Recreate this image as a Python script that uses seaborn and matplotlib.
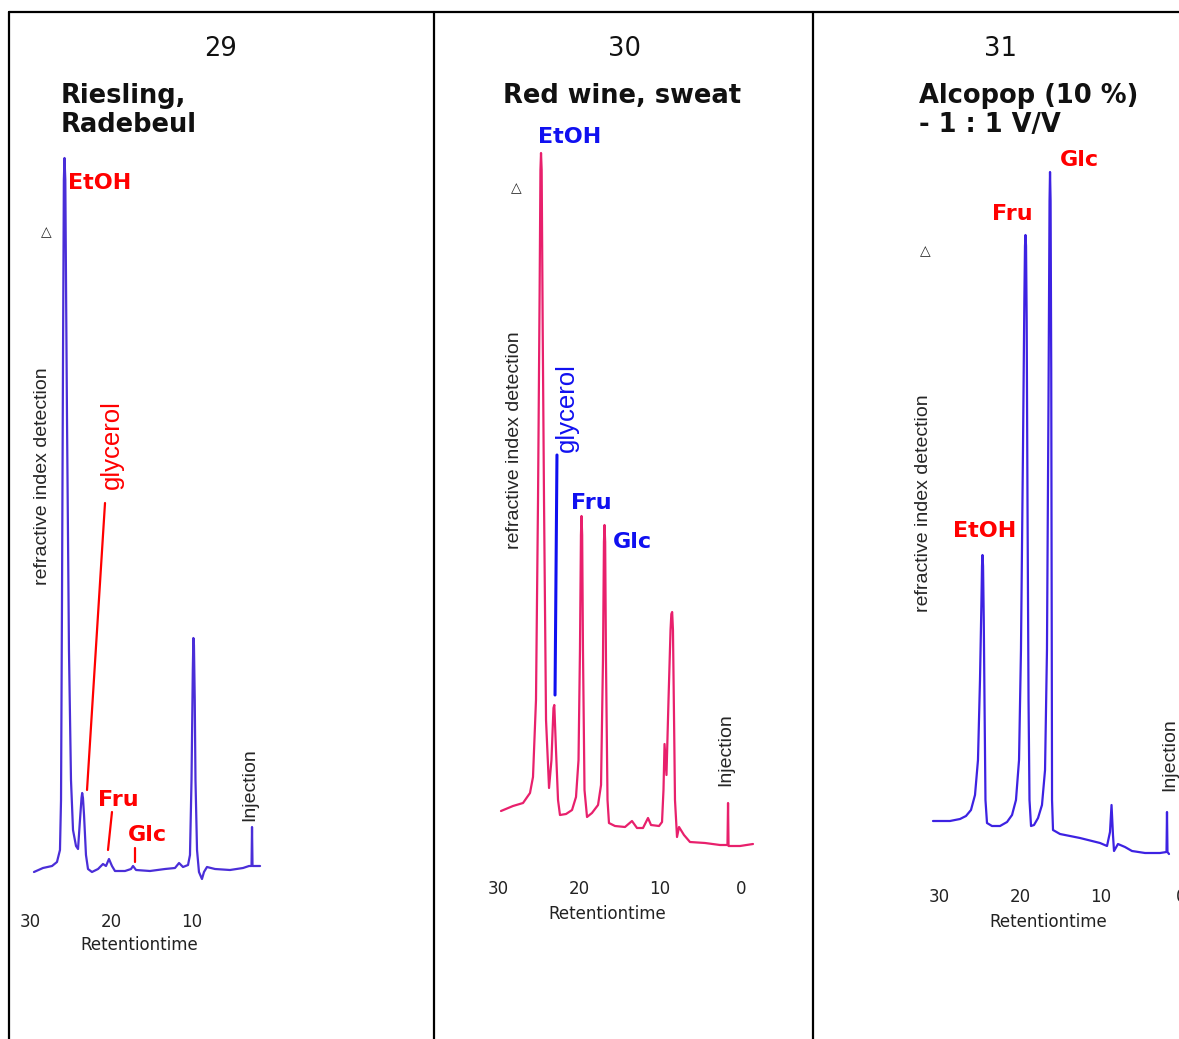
import matplotlib
matplotlib.use("Agg")
import matplotlib.pyplot as plt
import seaborn as sns
from matplotlib.lines import Line2D

# --- DATA: traced chromatograms (retention time in min, RI signal in a.u.) ---
p1_time = [29.51, 28.40, 27.28, 26.67, 26.30, 26.17, 26.05, 25.92, 25.82, 25.74,
           25.64, 25.53, 25.43, 25.19, 24.94, 24.69, 24.32, 24.07, 23.83, 23.64,
           23.56, 23.46, 23.33, 23.09, 22.84, 22.35, 21.60, 20.99, 20.62, 20.25,
           19.88, 19.51, 18.27, 17.53, 17.28, 16.91, 15.19, 13.33, 12.10, 11.60,
           11.11, 10.49, 10.25, 10.06, 9.90, 9.83, 9.76, 9.66, 9.57, 9.38,
           9.14, 8.77, 8.52, 8.15, 7.16, 5.31, 3.70, 2.96, 2.65, 2.59,
           2.53, 1.60]
p1_signal = [-2, 2, 4, 8, 20, 70, 270, 520, 690, 712,
             690, 560, 450, 220, 90, 40, 24, 21, 50, 72,
             77, 72, 55, 15, 1, -2, 1, 6, 4, 11,
             4, -1, -1, 1, 4, 0, -1, 1, 2, 7,
             3, 5, 15, 90, 200, 232, 225, 170, 90, 20,
             -2, -9, -2, 3, 1, 0, 2, 4, 4, 43,
             4, 4]

p2_time = [29.63, 28.15, 26.91, 26.05, 25.68, 25.31, 25.06, 24.86, 24.76, 24.69,
           24.61, 24.48, 24.32, 24.07, 23.70, 23.40, 23.15, 23.05, 22.84, 22.59,
           22.35, 21.60, 20.86, 20.37, 20.06, 19.88, 19.76, 19.69, 19.61, 19.51,
           19.32, 19.01, 18.40, 17.65, 17.28, 17.04, 16.92, 16.85, 16.77, 16.67,
           16.48, 16.30, 15.56, 14.32, 13.46, 12.84, 12.10, 11.48, 11.11, 10.12,
           9.75, 9.57, 9.44, 9.20, 8.95, 8.70, 8.60, 8.50, 8.40, 8.25,
           8.15, 7.90, 7.65, 7.04, 6.30, 4.44, 2.59, 1.67, 1.60, 1.54,
           0.12, -1.48]
p2_signal = [-1, 4, 7, 17, 33, 110, 310, 520, 640, 657,
             640, 480, 310, 90, 22, 50, 102, 105, 60, 10,
             -5, -4, 0, 13, 50, 160, 275, 294, 275, 160,
             20, -7, -3, 5, 25, 150, 268, 285, 268, 150,
             10, -13, -16, -17, -11, -18, -18, -8, -15, -16,
             -12, 20, 66, 35, 110, 180, 196, 198, 180, 80,
             10, -27, -17, -25, -32, -33, -35, -35, 7, -36,
             -36, -34]

p3_time = [30.81, 28.70, 27.45, 26.71, 26.09, 25.59, 25.22, 24.97, 24.80, 24.72,
           24.66, 24.59, 24.50, 24.41, 24.29, 24.10, 23.48, 22.48, 21.61, 20.99,
           20.50, 20.12, 19.88, 19.63, 19.46, 19.38, 19.32, 19.25, 19.17, 19.07,
           18.94, 18.82, 18.63, 18.26, 17.76, 17.27, 16.89, 16.65, 16.46, 16.33,
           16.27, 16.20, 16.12, 16.06, 16.02, 15.90, 15.03, 12.55, 10.06, 9.19,
           8.82, 8.63, 8.45, 8.32, 7.83, 6.96, 6.09, 4.47, 2.61, 1.80,
           1.74, 1.68, 1.49]
p3_signal = [0, 0, 2, 5, 11, 26, 61, 141, 215, 255,
             266, 255, 200, 121, 21, -2, -5, -5, -1, 6,
             21, 61, 171, 371, 520, 575, 586, 575, 500, 321,
             121, 21, -5, -4, 3, 16, 51, 171, 421, 620,
             649, 620, 450, 200, 21, -9, -13, -17, -22, -25,
             -11, 16, -14, -30, -23, -26, -30, -32, -32, -31,
             9, -31, -33]

panel_numbers = ["29", "30", "31"]
panel_titles = [["Riesling,", "Radebeul"], ["Red wine, sweat"], ["Alcopop (10 %)", "- 1 : 1 V/V"]]
tick_values = [[30, 20, 10], [30, 20, 10, 0], [30, 20, 10, 0]]

# --- LAYOUT (pixels) ---
W, H = 1179, 1039
trace_colors = ["#4a2ed8", "#e8206c", "#3d22e2"]
# x pixel of t=0, pixels per minute, baseline pixel, axis bottom pixel
layout = [(273, 8.1, 870, 907.7), (741, 8.1, 810, 874.7), (1181, 8.05, 821, 882.7)]
labelpads = [4, 5.5, 5.5]

sns.set_theme(style="white")
plt.rcParams["font.family"] = ["DejaVu Sans"]

fig = plt.figure(figsize=(W / 100, H / 100), dpi=100)
fig.patch.set_facecolor("white")

axes = []
data = [(p1_time, p1_signal), (p2_time, p2_signal), (p3_time, p3_signal)]
for i, (x0, ppm, base, bottom) in enumerate(layout):
    xl = x0 - 33 * ppm
    top = 13
    ax = fig.add_axes([xl / W, (H - bottom) / H, (x0 - xl) / W, (bottom - top) / H])
    ax.patch.set_alpha(0)
    t, s = data[i]
    sns.lineplot(x=t, y=s, ax=ax, color=trace_colors[i], linewidth=1.6,
                 sort=False, estimator=None)
    for ln in ax.lines:
        ln.set_clip_on(False)
        ln.set_solid_joinstyle("round")
    ax.set_xlim(33, 0)
    ax.set_ylim(base - bottom, base - top)
    ax.set_xticks(tick_values[i])
    ax.set_xticklabels([str(v) for v in tick_values[i]], fontsize=12, color="#222222")
    ax.tick_params(axis="x", length=0, pad=3.5)
    ax.set_yticks([])
    ax.set_ylabel("")
    ax.set_xlabel("Retentiontime", fontsize=12, labelpad=labelpads[i], color="#222222")
    for sp in ax.spines.values():
        sp.set_visible(False)
    axes.append(ax)

arial = "Liberation Sans"
red = "#ff0000"
blue = "#1010f0"
bold = dict(fontsize=16, fontweight="bold", va="center")

# panel 29
ax = axes[0]
ax.text(25.31, 687, "EtOH", color=red, ha="left", **bold)
ax.text(21.60, 70, "Fru", color=red, ha="left", **bold)
ax.text(17.90, 35, "Glc", color=red, ha="left", **bold)
ax.text(19.88, 425, "glycerol", color=red, rotation=90, ha="center", va="center",
        fontsize=18.5, family=arial)
ax.plot([20.74, 22.96], [367, 80], color=red, lw=1.6, clip_on=False)
ax.plot([19.88, 20.37], [58, 20], color=red, lw=1.6, clip_on=False)
ax.plot([17.04, 17.04], [22, 8], color=red, lw=1.6, clip_on=False)
ax.text(28.02, 638, "△", fontsize=10, ha="center", va="center")
ax.text(28.40, 394, "refractive index detection", rotation=90, ha="center",
        va="center", fontsize=14, family=arial)
ax.text(2.84, 85, "Injection", rotation=90, ha="center", va="center",
        fontsize=14, family=arial)

# panel 30
ax = axes[1]
ax.text(21.11, 673, "EtOH", color=blue, ha="center", **bold)
ax.text(20.99, 307, "Fru", color=blue, ha="left", **bold)
ax.text(15.80, 268, "Glc", color=blue, ha="left", **bold)
ax.text(21.48, 402, "glycerol", color=blue, rotation=90, ha="center", va="center",
        fontsize=18.5, family=arial)
ax.plot([22.72, 22.96], [355, 115], color=blue, lw=2.2, clip_on=False)
ax.text(27.78, 622, "△", fontsize=10, ha="center", va="center")
ax.text(28.02, 370, "refractive index detection", rotation=90, ha="center",
        va="center", fontsize=14, family=arial)
ax.text(1.85, 60, "Injection", rotation=90, ha="center", va="center",
        fontsize=14, family=arial)

# panel 31
ax = axes[2]
ax.text(15.03, 661, "Glc", color=red, ha="left", **bold)
ax.text(23.48, 607, "Fru", color=red, ha="left", **bold)
ax.text(28.32, 290, "EtOH", color=red, ha="left", **bold)
ax.text(31.80, 570, "△", fontsize=10, ha="center", va="center")
ax.text(31.93, 318, "refractive index detection", rotation=90, ha="center",
        va="center", fontsize=14, family=arial)
ax.text(1.37, 66, "Injection", rotation=90, ha="center", va="center",
        fontsize=14, family=arial)

# numbers and titles
num_x = [221, 624, 1000]
title_x = [61, 503, 919]
for i in range(3):
    fig.text(num_x[i] / W, 1 - 56 / H, panel_numbers[i], fontsize=18.5,
             ha="center", va="baseline", color="#111111")
    for j, line in enumerate(panel_titles[i]):
        fig.text(title_x[i] / W, 1 - (103 + 29 * j) / H, line, fontsize=18.5,
                 fontweight="bold", ha="left", va="baseline", color="#111111")

# frame lines
def frame(x1, y1, x2, y2):
    fig.add_artist(Line2D([x1 / W, x2 / W], [1 - y1 / H, 1 - y2 / H], color="black",
                          lw=1.6, transform=fig.transFigure))

frame(9, 12, W, 12)
frame(9, 12, 9, H)
frame(434, 12, 434, H)
frame(813, 12, 813, H)

fig.savefig("out.png", dpi=100)
